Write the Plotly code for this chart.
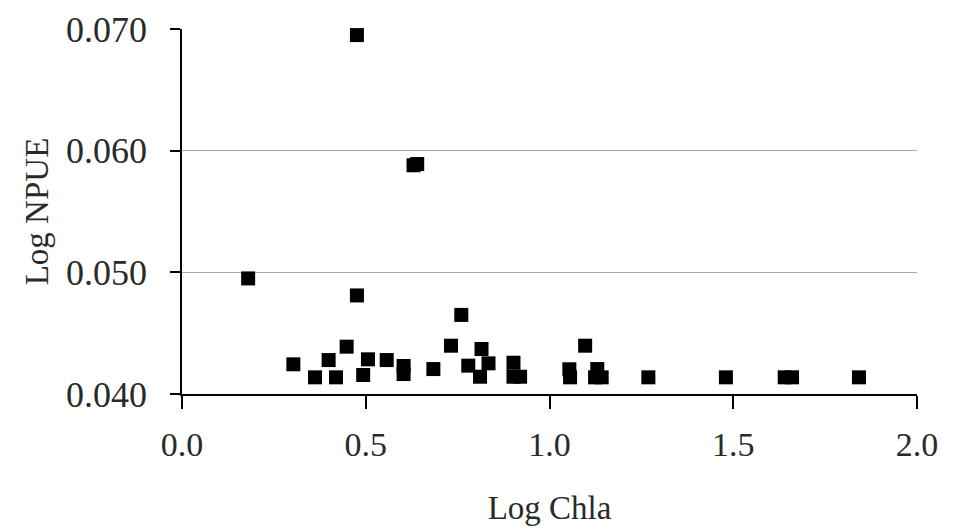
import plotly.graph_objects as go

log_chla = [0.18, 0.476, 0.630, 0.640, 0.476, 0.760, 0.303, 0.362, 0.399, 0.419, 0.448,
            0.493, 0.506, 0.557, 0.603, 0.603, 0.684, 0.732, 0.779, 0.811, 0.815, 0.834,
            0.902, 0.902, 0.920, 1.054, 1.056, 1.097, 1.130, 1.124, 1.142, 1.269, 1.480,
            1.640, 1.660, 1.842]
log_npue = [0.0495, 0.0695, 0.0588, 0.0589, 0.0481, 0.0465, 0.04244, 0.04137, 0.04279, 0.04137, 0.04389,
            0.04156, 0.04285, 0.04279, 0.0423, 0.04164, 0.04205, 0.04397, 0.04233, 0.04142, 0.0437, 0.04252,
            0.04257, 0.04142, 0.04142, 0.04203, 0.04137, 0.04397, 0.04205, 0.04137, 0.04137, 0.04137, 0.04137,
            0.04137, 0.04137, 0.04137]

x_ticks = [0.0, 0.5, 1.0, 1.5, 2.0]
x_ticktext = ["0.0", "0.5", "1.0", "1.5", "2.0"]
y_ticks = [0.040, 0.050, 0.060, 0.070]
y_ticktext = ["0.040", "0.050", "0.060", "0.070"]

font = "Liberation Serif, Times New Roman, serif"
txt = "#2a2a2a"

fig = go.Figure()
fig.add_trace(go.Scatter(
    x=log_chla, y=log_npue, mode="markers",
    marker=dict(symbol="square", size=14, color="black", line=dict(width=0)),
    showlegend=False, cliponaxis=False,
))

fig.update_layout(
    width=959, height=531,
    margin=dict(l=182, r=42, t=29, b=137),
    paper_bgcolor="white", plot_bgcolor="white",
    font=dict(family=font, color=txt, size=34),
    xaxis=dict(
        range=[0, 2.0], tickvals=x_ticks, ticktext=x_ticktext,
        showgrid=False, zeroline=False, automargin=False,
        showline=True, linecolor="black", linewidth=1.5,
        ticks="outside", ticklen=13, tickwidth=1.5, tickcolor="black",
        ticklabelstandoff=6,
        tickfont=dict(size=34, family=font, color=txt),
        title=dict(text="Log Chla", font=dict(size=33, family=font, color=txt), standoff=34),
    ),
    yaxis=dict(
        range=[0.040, 0.070], tickvals=y_ticks, ticktext=y_ticktext,
        showgrid=True, gridcolor="#a8a8a8", gridwidth=1.2, zeroline=False, automargin=False,
        showline=True, linecolor="black", linewidth=1.5,
        ticks="outside", ticklen=10, tickwidth=1.5, tickcolor="black",
        ticklabelstandoff=16,
        tickfont=dict(size=36, family=font, color=txt),
        title=dict(text="Log NPUE", font=dict(size=33, family=font, color=txt), standoff=7),
    ),
)

fig.write_html("out.html")
